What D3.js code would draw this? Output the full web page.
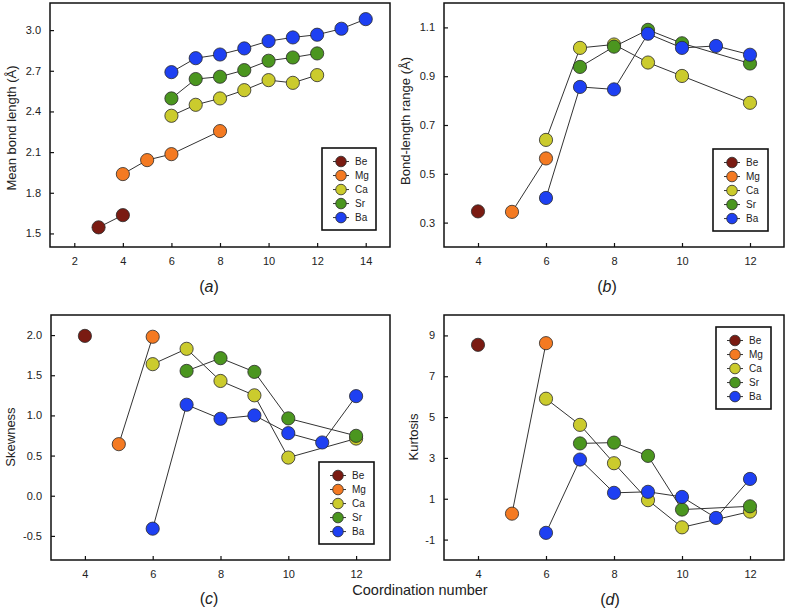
<!DOCTYPE html>
<html><head><meta charset="utf-8">
<script src="https://cdn.jsdelivr.net/npm/d3@7"></script>
<style>body{margin:0;background:#fff}text{font-family:"Liberation Sans",Arial,sans-serif;fill:#222}</style>
</head>
<body><svg id="chart" width="787" height="612"></svg>
<script>
// ---------- data ----------
const elements = ["Be", "Mg", "Ca", "Sr", "Ba"];

// (a) Mean bond length (Å) vs coordination number
const meanBondLength = {
  Be: [[3, 1.545], [4, 1.635]],
  Mg: [[4, 1.938], [5, 2.041], [6, 2.085], [8, 2.255]],
  Ca: [[6, 2.368], [7, 2.449], [8, 2.496], [9, 2.557], [10, 2.631], [11, 2.611], [12, 2.668]],
  Sr: [[6, 2.496], [7, 2.639], [8, 2.656], [9, 2.705], [10, 2.774], [11, 2.798], [12, 2.828]],
  Ba: [[6, 2.690], [7, 2.793], [8, 2.820], [9, 2.865], [10, 2.919], [11, 2.946], [12, 2.966], [13, 3.010], [14, 3.081]]
};
// (b) Bond-length range (Å)
const bondLengthRange = {
  Be: [[4, 0.346]],
  Mg: [[5, 0.344], [6, 0.563]],
  Ca: [[6, 0.639], [7, 1.016], [8, 1.030], [9, 0.956], [10, 0.901], [12, 0.791]],
  Sr: [[7, 0.938], [8, 1.021], [9, 1.090], [10, 1.035], [12, 0.952]],
  Ba: [[6, 0.401], [7, 0.856], [8, 0.846], [9, 1.074], [10, 1.016], [11, 1.024], [12, 0.988]]
};
// (c) Skewness
const skewness = {
  Be: [[4, 1.99]],
  Mg: [[5, 0.642], [6, 1.979]],
  Ca: [[6, 1.638], [7, 1.829], [8, 1.429], [9, 1.25], [10, 0.475], [12, 0.712]],
  Sr: [[7, 1.554], [8, 1.713], [9, 1.542], [10, 0.963], [12, 0.746]],
  Ba: [[6, -0.41], [7, 1.133], [8, 0.958], [9, 1.0], [10, 0.779], [11, 0.663], [12, 1.24]]
};
// (d) Kurtosis
const kurtosis = {
  Be: [[4, 8.54]],
  Mg: [[5, 0.27], [6, 8.62]],
  Ca: [[6, 5.90], [7, 4.62], [8, 2.74], [9, 0.93], [10, -0.40], [12, 0.37]],
  Sr: [[7, 3.71], [8, 3.75], [9, 3.10], [10, 0.47], [12, 0.63]],
  Ba: [[6, -0.67], [7, 2.92], [8, 1.29], [9, 1.34], [10, 1.09], [11, 0.06], [12, 1.97]]
};

const ticksA_x = [2, 4, 6, 8, 10, 12, 14];
const ticksA_y = [1.5, 1.8, 2.1, 2.4, 2.7, 3.0];
const ticksB_x = [4, 6, 8, 10, 12];
const ticksB_y = [0.3, 0.5, 0.7, 0.9, 1.1];
const ticksC_y = [-0.5, 0.0, 0.5, 1.0, 1.5, 2.0];
const ticksD_y = [-1, 1, 3, 5, 7, 9];

// ---------- styles / layout ----------
const colors = {Be: "#7a1b12", Mg: "#f47a22", Ca: "#cbcb2d", Sr: "#4b961f", Ba: "#1e40f2"};
const hy = f => (d => f(d).replace("\u2212", "-"));

const panels = [
  {data: meanBondLength, xd: [1, 15], yd: [1.4, 3.2], xt: ticksA_x, yt: ticksA_y, yfmt: hy(d3.format(".1f")),
   box: [50, 3, 390, 247], title: "Mean bond length (Å)", tx: 16, ty: 128,
   label: "a", lx: 209, ly: 292, leg: [322, 148, 376, 230]},
  {data: bondLengthRange, xd: [3, 13], yd: [0.2, 1.2], xt: ticksB_x, yt: ticksB_y, yfmt: hy(d3.format(".1f")),
   box: [444, 3, 784, 247], title: "Bond-length range (Å)", tx: 410, ty: 121,
   label: "b", lx: 607, ly: 292, leg: [713, 149, 768, 231]},
  {data: skewness, xd: [3, 13], yd: [-0.8, 2.25], xt: ticksB_x, yt: ticksC_y, yfmt: hy(d3.format(".1f")),
   box: [51, 315, 390, 560], title: "Skewness", tx: 15, ty: 437,
   label: "c", lx: 209, ly: 604, leg: [319, 462, 374, 544]},
  {data: kurtosis, xd: [3, 13], yd: [-2, 10], xt: ticksB_x, yt: ticksD_y, yfmt: hy(d3.format("d")),
   box: [444, 315, 784, 560], title: "Kurtosis", tx: 418, ty: 437,
   label: "d", lx: 610, ly: 605, leg: [716, 327, 771, 409]}
];

const svg = d3.select("#chart");
svg.append("rect").attr("width", 787).attr("height", 612).attr("fill", "#fff");

panels.forEach(p => {
  const [x0, y0, x1, y1] = p.box;
  const x = d3.scaleLinear().domain(p.xd).range([x0, x1]);
  const y = d3.scaleLinear().domain(p.yd).range([y1, y0]);
  const g = svg.append("g");

  // axes (inward ticks)
  const ax = g.append("g").attr("transform", `translate(0,${y1})`)
    .call(d3.axisBottom(x).tickValues(p.xt).tickSizeInner(-4).tickSizeOuter(0).tickPadding(10));
  const ay = g.append("g").attr("transform", `translate(${x0},0)`)
    .call(d3.axisLeft(y).tickValues(p.yt).tickFormat(p.yfmt).tickSizeInner(-4).tickSizeOuter(0).tickPadding(9));
  [ax, ay].forEach(a => {
    a.select(".domain").remove();
    a.selectAll(".tick line").attr("stroke", "#111").attr("stroke-width", 1.2);
    a.selectAll(".tick text").attr("font-size", 11).attr("fill", "#222")
      .style("font-family", '"Liberation Sans",Arial,sans-serif');
  });

  // frame
  g.append("rect").attr("x", x0).attr("y", y0).attr("width", x1 - x0).attr("height", y1 - y0)
    .attr("fill", "none").attr("stroke", "#111").attr("stroke-width", 1.5);

  // series
  const line = d3.line().x(d => x(d[0])).y(d => y(d[1]));
  elements.forEach(el => {
    const pts = p.data[el];
    g.append("path").attr("d", line(pts)).attr("fill", "none")
      .attr("stroke", "#333").attr("stroke-width", 1);
    g.selectAll(null).data(pts).enter().append("circle")
      .attr("cx", d => x(d[0])).attr("cy", d => y(d[1])).attr("r", 6.6)
      .attr("fill", colors[el]).attr("stroke", "#2a2a2a").attr("stroke-width", 0.8);
  });

  // axis title
  g.append("text").attr("transform", `translate(${p.tx},${p.ty}) rotate(-90)`)
    .attr("text-anchor", "middle").attr("font-size", 13).text(p.title);

  // panel label
  const lt = g.append("text").attr("x", p.lx).attr("y", p.ly).attr("text-anchor", "middle").attr("font-size", 16);
  lt.append("tspan").text("(");
  lt.append("tspan").attr("font-style", "italic").text(p.label);
  lt.append("tspan").text(")");

  // legend
  const [lx0, ly0, lx1, ly1] = p.leg;
  const lg = g.append("g");
  lg.append("rect").attr("x", lx0).attr("y", ly0).attr("width", lx1 - lx0).attr("height", ly1 - ly0)
    .attr("fill", "#fff").attr("stroke", "#111").attr("stroke-width", 1.6);
  const step = (ly1 - ly0) / 5.85;
  elements.forEach((el, i) => {
    const cy = ly0 + step * (i + 1) - 0.5;
    const cx = lx0 + 19;
    lg.append("line").attr("x1", cx - 8).attr("x2", cx + 8).attr("y1", cy).attr("y2", cy)
      .attr("stroke", "#333").attr("stroke-width", 1);
    lg.append("circle").attr("cx", cx).attr("cy", cy).attr("r", 5.3)
      .attr("fill", colors[el]).attr("stroke", "#2a2a2a").attr("stroke-width", 0.8);
    lg.append("text").attr("x", cx + 14).attr("y", cy + 3.6).attr("font-size", 10).text(el);
  });
});

svg.append("text").attr("x", 420).attr("y", 595).attr("text-anchor", "middle")
  .attr("font-size", 14.5).text("Coordination number");
</script>
</body></html>
